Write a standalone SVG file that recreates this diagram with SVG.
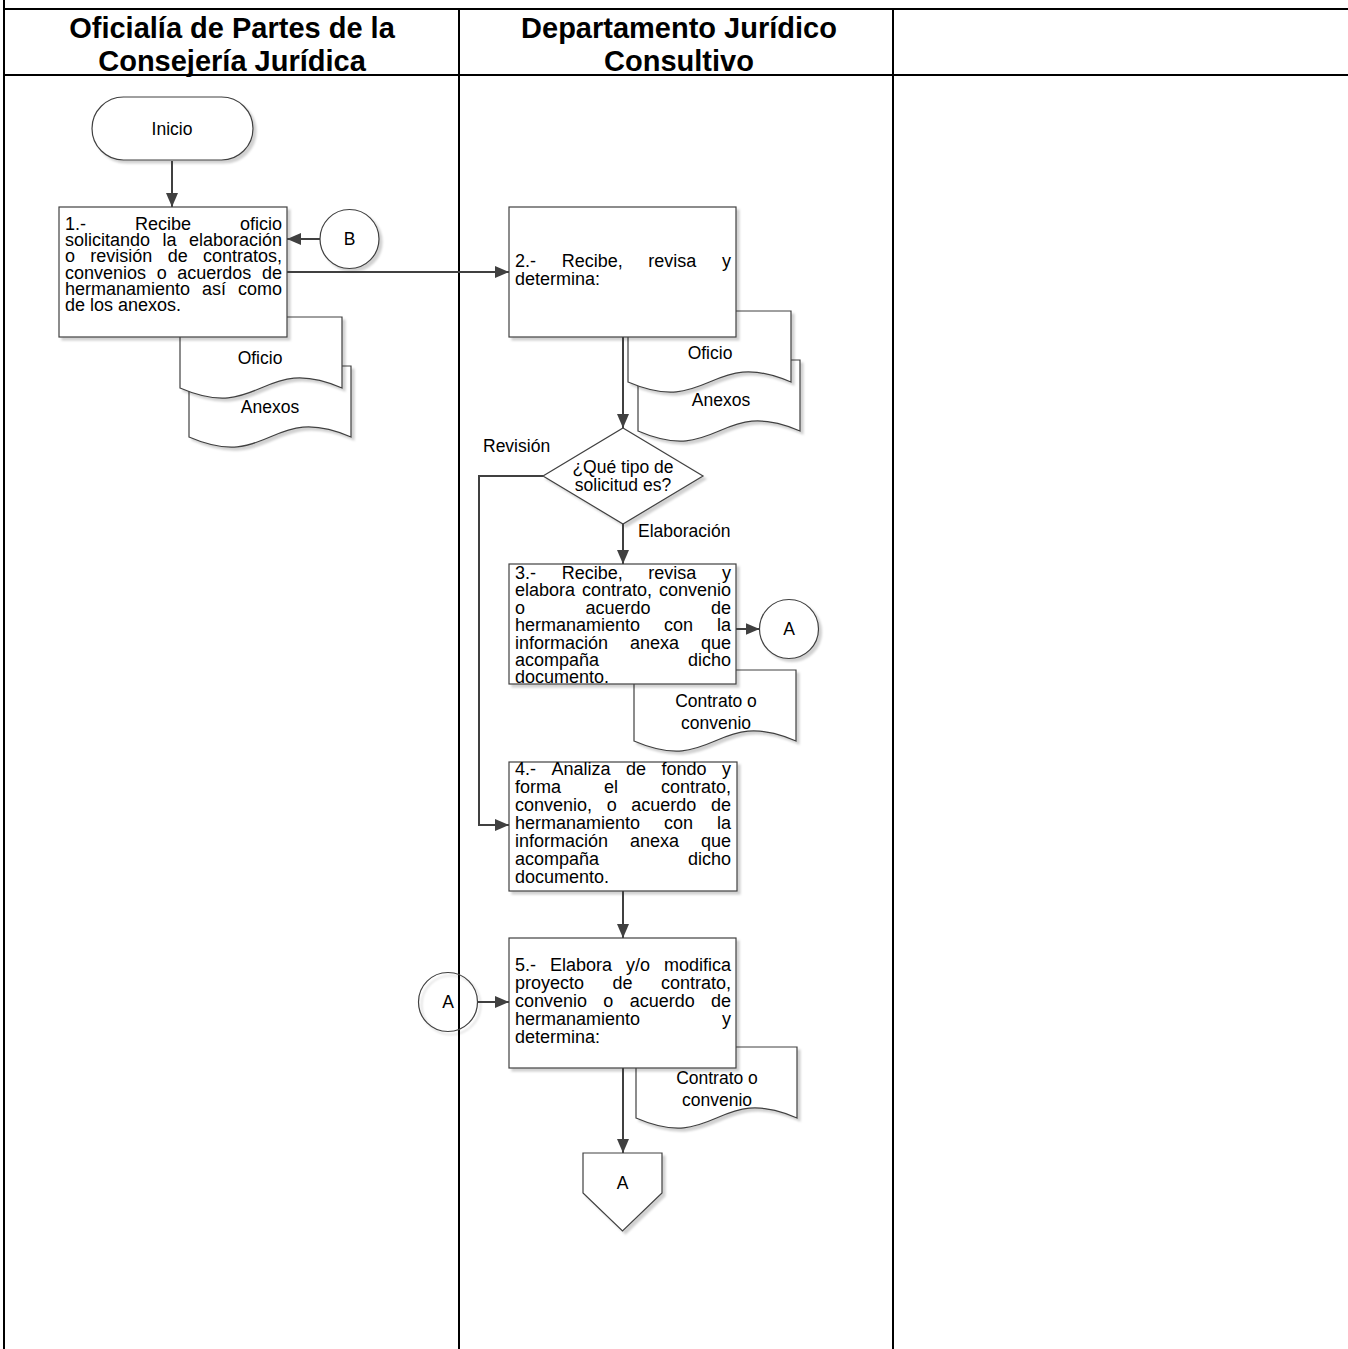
<svg xmlns="http://www.w3.org/2000/svg" width="1348" height="1349" viewBox="0 0 1348 1349">
<defs>
<style>
.lane{stroke:#000;stroke-width:2;fill:none}
.hdr{font-family:"Liberation Sans",Arial,sans-serif;font-weight:bold;font-size:29px;fill:#000;text-anchor:middle}
.shape{fill:#fff;stroke:#404040;stroke-width:1.2}
.t{font-family:"Liberation Sans",Arial,sans-serif;font-size:18px;fill:#000}
.lbl{font-family:"Liberation Sans",Arial,sans-serif;font-size:17.5px;fill:#000}
.c{text-anchor:middle}
.e{text-anchor:end}
.conn{stroke:#404040;stroke-width:2;fill:none}
</style>
<filter id="sh" x="-10%" y="-10%" width="130%" height="130%">
<feDropShadow dx="3" dy="3" stdDeviation="1.2" flood-color="#000" flood-opacity="0.18"/>
</filter>
<marker id="arr" viewBox="0 0 14 12" refX="14" refY="6" markerWidth="14" markerHeight="12" markerUnits="userSpaceOnUse" orient="auto">
<path d="M0,0 L14,6 L0,12 z" fill="#404040"/>
</marker>
</defs>
<rect width="1348" height="1349" fill="#fff"/>

<g id="lanes">
<line class="lane" x1="4" y1="0" x2="4" y2="1349"/>
<line class="lane" x1="3" y1="9" x2="1348" y2="9"/>
<line class="lane" x1="3" y1="75" x2="1348" y2="75"/>
<line class="lane" x1="459" y1="9" x2="459" y2="1349"/>
<line class="lane" x1="893" y1="9" x2="893" y2="1349"/>
<text class="hdr" x="232" y="38">Oficialía de Partes de la</text>
<text class="hdr" x="232" y="71">Consejería Jurídica</text>
<text class="hdr" x="679" y="38">Departamento Jurídico</text>
<text class="hdr" x="679" y="71">Consultivo</text>
</g>

<g id="inicio">
<rect class="shape" filter="url(#sh)" x="92" y="97" width="161" height="63" rx="31.5"/>
<text class="lbl c" x="172" y="135">Inicio</text>
</g>

<g id="doc-anexos-1">
<path class="shape" filter="url(#sh)" d="M189,366 H351 V437 C270,402 270,472 189,437 Z"/>
<text class="lbl c" x="270" y="413">Anexos</text>
</g>
<g id="doc-oficio-1">
<path class="shape" filter="url(#sh)" d="M180,317 H342 V388 C261,353 261,423 180,388 Z"/>
<text class="lbl c" x="260" y="364">Oficio</text>
</g>

<g id="paso1">
<rect class="shape" filter="url(#sh)" x="59" y="207" width="228" height="130"/>
<text class="t" y="230"><tspan x="65">1.-</tspan><tspan x="135">Recibe</tspan><tspan x="282" class="e">oficio</tspan></text>
<text class="t" y="246.2"><tspan x="65">solicitando</tspan><tspan x="162.5">la</tspan><tspan x="282" class="e">elaboración</tspan></text>
<text class="t" y="262.4"><tspan x="65">o</tspan><tspan x="90.3">revisión</tspan><tspan x="167.7">de</tspan><tspan x="282" class="e">contratos,</tspan></text>
<text class="t" y="278.6"><tspan x="65">convenios</tspan><tspan x="156.7">o</tspan><tspan x="177.3">acuerdos</tspan><tspan x="282" class="e">de</tspan></text>
<text class="t" y="294.8"><tspan x="65">hermanamiento</tspan><tspan x="202">así</tspan><tspan x="282" class="e">como</tspan></text>
<text class="t" y="311"><tspan x="65">de los anexos.</tspan></text>
</g>

<g id="conector-b">
<circle class="shape" filter="url(#sh)" cx="349.5" cy="239" r="29.5"/>
<text class="lbl c" x="349.5" y="245">B</text>
</g>

<g id="doc-anexos-2">
<path class="shape" filter="url(#sh)" d="M638,360 H800 V431 C719,396 719,466 638,431 Z"/>
<text class="lbl c" x="721" y="406">Anexos</text>
</g>
<g id="doc-oficio-2">
<path class="shape" filter="url(#sh)" d="M628,311 H791 V382 C709.5,347 709.5,417 628,382 Z"/>
<text class="lbl c" x="710" y="359">Oficio</text>
</g>

<g id="paso2">
<rect class="shape" filter="url(#sh)" x="509" y="207" width="227" height="130"/>
<text class="t" y="267"><tspan x="515">2.-</tspan><tspan x="561.7">Recibe,</tspan><tspan x="648.3">revisa</tspan><tspan x="731" class="e">y</tspan></text>
<text class="t" y="285"><tspan x="515">determina:</tspan></text>
</g>

<g id="decision">
<path class="shape" filter="url(#sh)" d="M623,428 L703,476 L623,524 L543,476 Z"/>
<text class="lbl c" x="623" y="473">¿Qué tipo de</text>
<text class="lbl c" x="623" y="491">solicitud es?</text>
</g>

<g id="doc-contrato-3">
<path class="shape" filter="url(#sh)" d="M634,670 H796 V741 C715,706 715,776 634,741 Z"/>
<text class="lbl c" x="716" y="707">Contrato o</text>
<text class="lbl c" x="716" y="729">convenio</text>
</g>

<g id="paso3">
<rect class="shape" filter="url(#sh)" x="509" y="564" width="227" height="120"/>
<text class="t" y="579"><tspan x="515">3.-</tspan><tspan x="561.7">Recibe,</tspan><tspan x="648.3">revisa</tspan><tspan x="731" class="e">y</tspan></text>
<text class="t" y="596.4"><tspan x="515">elabora</tspan><tspan x="582">contrato,</tspan><tspan x="731" class="e">convenio</tspan></text>
<text class="t" y="613.8"><tspan x="515">o</tspan><tspan x="585.5">acuerdo</tspan><tspan x="731" class="e">de</tspan></text>
<text class="t" y="631.2"><tspan x="515">hermanamiento</tspan><tspan x="664">con</tspan><tspan x="731" class="e">la</tspan></text>
<text class="t" y="648.6"><tspan x="515">información</tspan><tspan x="630">anexa</tspan><tspan x="731" class="e">que</tspan></text>
<text class="t" y="666"><tspan x="515">acompaña</tspan><tspan x="731" class="e">dicho</tspan></text>
<text class="t" y="683.2"><tspan x="515">documento.</tspan></text>
</g>

<g id="conector-a-salida">
<circle class="shape" filter="url(#sh)" cx="789" cy="629" r="29.5"/>
<text class="lbl c" x="789" y="635">A</text>
</g>

<g id="paso4">
<rect class="shape" filter="url(#sh)" x="509" y="762" width="228" height="129"/>
<text class="t" y="775"><tspan x="515">4.-</tspan><tspan x="551.5">Analiza</tspan><tspan x="626">de</tspan><tspan x="661.5">fondo</tspan><tspan x="731" class="e">y</tspan></text>
<text class="t" y="793"><tspan x="515">forma</tspan><tspan x="604">el</tspan><tspan x="731" class="e">contrato,</tspan></text>
<text class="t" y="811"><tspan x="515">convenio,</tspan><tspan x="606.7">o</tspan><tspan x="631.3">acuerdo</tspan><tspan x="731" class="e">de</tspan></text>
<text class="t" y="829"><tspan x="515">hermanamiento</tspan><tspan x="664">con</tspan><tspan x="731" class="e">la</tspan></text>
<text class="t" y="847"><tspan x="515">información</tspan><tspan x="630">anexa</tspan><tspan x="731" class="e">que</tspan></text>
<text class="t" y="865"><tspan x="515">acompaña</tspan><tspan x="731" class="e">dicho</tspan></text>
<text class="t" y="883"><tspan x="515">documento.</tspan></text>
</g>

<g id="doc-contrato-5">
<path class="shape" filter="url(#sh)" d="M636,1047 H797 V1118 C716.5,1083 716.5,1153 636,1118 Z"/>
<text class="lbl c" x="717" y="1084">Contrato o</text>
<text class="lbl c" x="717" y="1106">convenio</text>
</g>

<g id="paso5">
<rect class="shape" filter="url(#sh)" x="509" y="938" width="227" height="130"/>
<text class="t" y="971"><tspan x="515">5.-</tspan><tspan x="550">Elabora</tspan><tspan x="626">y/o</tspan><tspan x="731" class="e">modifica</tspan></text>
<text class="t" y="989"><tspan x="515">proyecto</tspan><tspan x="612.5">de</tspan><tspan x="731" class="e">contrato,</tspan></text>
<text class="t" y="1007"><tspan x="515">convenio</tspan><tspan x="603.3">o</tspan><tspan x="629.7">acuerdo</tspan><tspan x="731" class="e">de</tspan></text>
<text class="t" y="1025"><tspan x="515">hermanamiento</tspan><tspan x="731" class="e">y</tspan></text>
<text class="t" y="1043"><tspan x="515">determina:</tspan></text>
</g>

<g id="conector-a-entrada">
<circle class="shape" filter="url(#sh)" cx="448" cy="1002" r="29.5" style="fill:none"/>
<text class="lbl c" x="448" y="1008">A</text>
</g>

<g id="fuera-de-pagina-a">
<path class="shape" filter="url(#sh)" d="M583,1153 H662 V1193 L622.5,1231 L583,1193 Z"/>
<text class="lbl c" x="622.5" y="1189">A</text>
</g>

<g id="connectors">
<path class="conn" marker-end="url(#arr)" d="M172,161 V207"/>
<path class="conn" marker-end="url(#arr)" d="M320,239 H287"/>
<path class="conn" marker-end="url(#arr)" d="M287,272 H509"/>
<path class="conn" marker-end="url(#arr)" d="M623,337 V428"/>
<path class="conn" marker-end="url(#arr)" d="M623,524 V564"/>
<path class="conn" marker-end="url(#arr)" d="M543,476 H479 V825 H509"/>
<path class="conn" marker-end="url(#arr)" d="M736,629 H759.5"/>
<path class="conn" marker-end="url(#arr)" d="M623,891 V938"/>
<path class="conn" marker-end="url(#arr)" d="M477.5,1002 H509"/>
<path class="conn" marker-end="url(#arr)" d="M623,1068 V1153"/>
<text class="lbl" x="483" y="452">Revisión</text>
<text class="lbl" x="638" y="537">Elaboración</text>
</g>
</svg>
